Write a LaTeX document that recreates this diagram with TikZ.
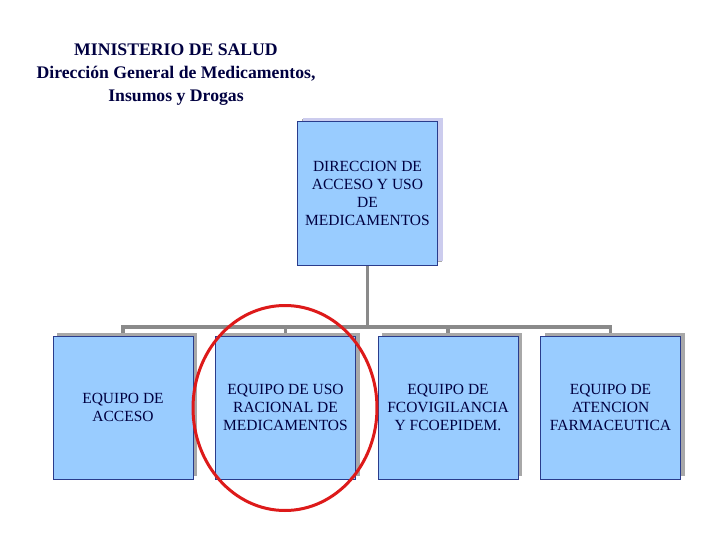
\documentclass[tikz,border=0pt]{standalone}
\usepackage{fontspec}
\setmainfont{Liberation Serif}
\usepackage{tikz}
\usetikzlibrary{backgrounds,positioning,shadows,shapes.geometric}

\definecolor{boxblue}{HTML}{99CCFF}
\definecolor{boxline}{HTML}{2A3C8C}
\definecolor{navytext}{HTML}{000040}
\definecolor{shadegrey}{HTML}{A8A8A8}
\definecolor{shadelav}{HTML}{CCCCEE}
\definecolor{conngrey}{HTML}{8A8A8A}
\definecolor{markred}{HTML}{DD1A1A}

\tikzset{
  unit/.style={draw=boxline,line width=1pt,fill=boxblue,text=navytext,
    minimum width=140pt,minimum height=143pt,inner sep=0pt,align=center,
    font=\fontsize{15.5}{18}\selectfont,
    general shadow={fill=shadegrey,shadow xshift=4pt,shadow yshift=3pt}},
  headunit/.style={unit,
    general shadow={fill=shadelav,shadow xshift=5pt,shadow yshift=4pt}},
  conn/.style={draw=conngrey,line width=3.2pt},
}

\begin{document}
\begin{tikzpicture}[x=1pt,y=-1pt]
\useasboundingbox (0,0) rectangle (720,540);

\node[align=center,text=navytext,font=\bfseries\fontsize{17.7}{23}\selectfont] (title) at (176,75)
  {MINISTERIO DE SALUD\\Dirección General de Medicamentos,\\Insumos y Drogas};

\node[headunit] (dir) at (367.5,193.5) {DIRECCION DE\\ACCESO Y USO\\DE\\MEDICAMENTOS};

\node[unit] (acc) at (123,407.5) {EQUIPO DE\\ACCESO};
\node[unit] (uso) at (285.5,407.5) {EQUIPO DE USO\\RACIONAL DE\\MEDICAMENTOS};
\node[unit] (fco) at (448,407.5) {EQUIPO DE\\FCOVIGILANCIA\\Y FCOEPIDEM.};
\node[unit] (ate) at (610.5,407.5) {EQUIPO DE\\ATENCION\\FARMACEUTICA};

\coordinate (bus) at (367.5,327);

% tree lines
\begin{scope}[on background layer]
\draw[conn] (dir.south) -- (bus);
\foreach \n in {acc,uso,fco,ate}
  \draw[conn] (\n.north) |- (bus);
\end{scope}

\node[ellipse,draw=markred,line width=3pt,minimum width=184pt,minimum height=205pt] (mark) at (285,408) {};
\end{tikzpicture}
\end{document}
